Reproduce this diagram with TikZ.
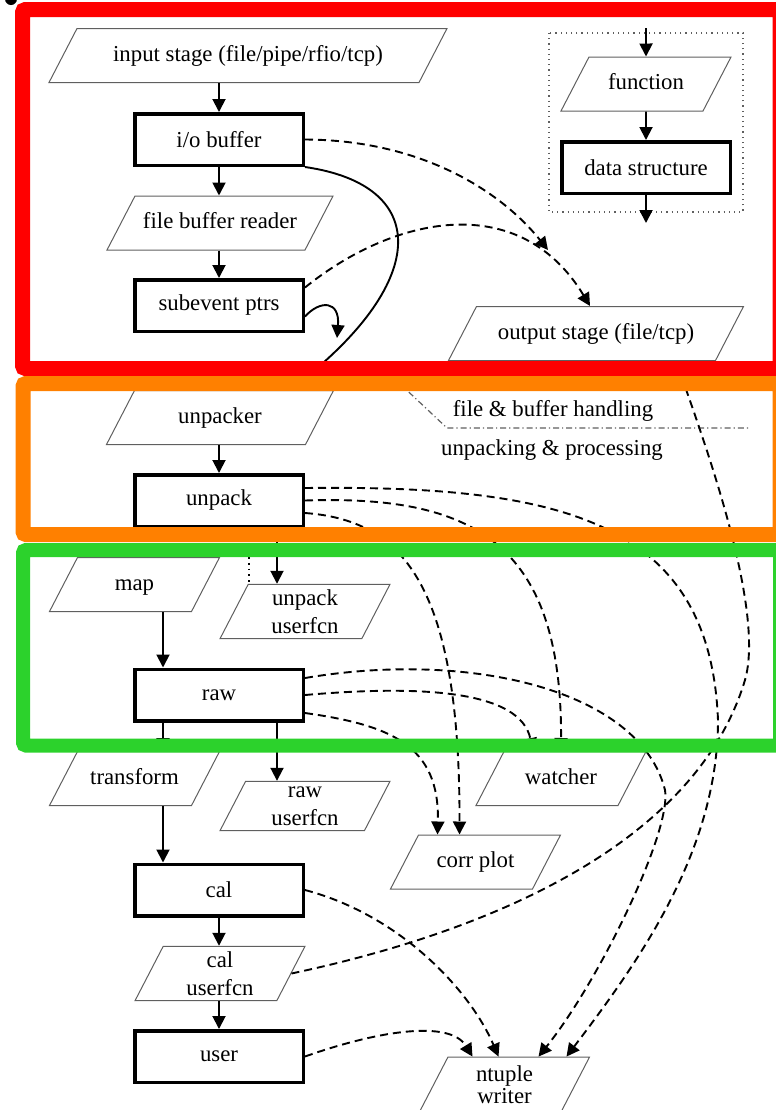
\documentclass[tikz,border=0pt]{standalone}
\usepackage{fontspec}
\setmainfont{Liberation Serif}
\usetikzlibrary{arrows.meta,calc,shapes.geometric}
\definecolor{framered}{RGB}{255,0,0}
\definecolor{frameorange}{RGB}{255,128,0}
\definecolor{framegreen}{RGB}{44,210,44}
\definecolor{outline}{RGB}{95,95,95}

\tikzset{
	func/.style={trapezium, trapezium left angle=62.6, trapezium right angle=117.4,
		trapezium stretches body, draw=outline, line width=0.5pt,
		minimum width=85pt, inner xsep=1pt, inner ysep=8.25pt,
		text height=8pt, text depth=2.5pt},
	funcii/.style={func, text height=, text depth=, inner ysep=2.6pt, align=center},
	dstruct/.style={rectangle, draw, line width=1.75pt,
		minimum width=84.25pt, minimum height=25.75pt},
	arr/.style={-{Triangle[length=6.5pt,width=6.5pt]}, line width=0.95pt},
	darr/.style={arr, dash pattern=on 4pt off 2.5pt},
	frame/.style={line width=7.5pt, rounded corners=1.5pt}
}

\begin{document}
\begin{tikzpicture}[x=0.5pt,y=-0.5pt,font=\fontsize{11.4}{14}\selectfont]
	\useasboundingbox (0,0) rectangle (776,1110);
	\clip (0,0) rectangle (776,1110);
	
	% file & buffer handling
	\node[func, minimum width=199pt] (instage) at (248,55.5) {input stage (file/pipe/rfio/tcp)};
	\node[dstruct] (io) at (219,139.5) {i/o buffer};
	\node[func, minimum width=113pt] (fbr) at (220,223) {file buffer reader};
	\node[dstruct] (sub) at (219,305.5) {subevent ptrs};
	\node[func, minimum width=147.5pt] (outstage) at (596,333.5) {output stage (file/tcp)};
	
	% legend
	\draw[outline, line width=0.6pt, dash pattern=on 0.6pt off 2pt] (549,33) rectangle (743,212);
	\coordinate (legin) at (646,28);
	\coordinate (legout) at (646,223);
	\node[func] (function) at (646,84) {function};
	\node[dstruct] (ds) at (646,167.5) {data structure};
	\draw[arr] (legin) -- (function.north);
	\draw[arr] (function.south) -- (ds.north);
	\draw[arr] (ds.south) -- (legout);
	
	% unpacking & processing
	\node[func, minimum width=113.5pt] (unpacker) at (220,417.5) {unpacker};
	\node[dstruct] (unpack) at (219,500.5) {unpack};
	\node[func] (map) at (134.5,584.5) {map};
	\node[funcii] (unpuf) at (305,611.5) {unpack\\userfcn};
	\node[dstruct] (raw) at (219,695) {raw};
	\node[func] (transform) at (134.5,778.5) {transform};
	\node[funcii] (rawuf) at (305,806) {raw\\userfcn};
	\node[func] (watcher) at (561,778.5) {watcher};
	\node[func] (corr) at (475.5,862) {corr plot};
	\node[dstruct] (cal) at (219,890) {cal};
	\node[funcii] (caluf) at (220,973.5) {cal\\userfcn};
	\node[dstruct] (user) at (219,1056.5) {user};
	\node[funcii, inner ysep=4.2pt, font=\fontsize{11.4}{11}\selectfont] (ntuple) at (504.5,1084.5) {ntuple\\writer};
	
	% separator
	\draw[outline, line width=0.6pt, dash pattern=on 3pt off 1.5pt on 0.6pt off 1.5pt]
		(380,365) -- (447,428) -- (750,428);
	\node at (553,411) {file \& buffer handling};
	\node at (552,450) {unpacking \& processing};
	
	% solid flow
	\draw[arr] (io.north |- instage.south) -- (io.north);
	\draw[arr] (io.south) -- (io.south |- fbr.north);
	\draw[arr] (sub.north |- fbr.south) -- (sub.north);
	\draw[arr] (io.south east) .. controls (430,185) and (430,280) .. ($(unpacker.north)+(70,0)$);
	\coordinate (loopend) at (337,338);
	\draw[arr] ([yshift=-5.5pt]sub.east) .. controls (320,300) and (340,300) .. (loopend);
	\draw[arr] (unpack.north |- unpacker.south) -- (unpack.north);
	\draw[arr] ([xshift=29pt]unpack.south) -- ([xshift=29pt]unpack.south |- unpuf.north);
	\draw[line width=0.9pt, dotted] ([xshift=15pt]unpack.south) -- ([xshift=15pt]unpack.south |- unpuf.north);
	\draw[arr] ([xshift=-28pt]raw.north |- map.south) -- ([xshift=-28pt]raw.north);
	\draw[arr] ([xshift=-28pt]raw.south) -- ([xshift=-28pt]raw.south |- transform.north);
	\draw[arr] ([xshift=29pt]raw.south) -- ([xshift=29pt]raw.south |- rawuf.north);
	\draw[arr] ([xshift=-28pt]cal.north |- transform.south) -- ([xshift=-28pt]cal.north);
	\draw[arr] (cal.south) -- (cal.south |- caluf.north);
	\draw[arr] (user.north |- caluf.south) -- (user.north);
	
	% data flow
	\coordinate (iotip) at (548,250);
	\draw[darr] (io.east) .. controls (420,140) and (500,190) .. (iotip);
	\draw[darr] ([yshift=9pt]sub.east) .. controls (395,215) and (520,190) .. ([xshift=-3pt]outstage.north);
	\draw[darr] (caluf.east) .. controls (520,925) and (700,830) .. (745,680)
		.. controls (765,610) and (706,446) .. ($(outstage.south)+(80,0)$);
	\draw[darr] ([yshift=6.25pt]unpack.east) .. controls (560,485) and (710,520) .. (718,720)
		.. controls (718,850) and (640,960) .. ([xshift=31pt]ntuple.north);
	\draw[darr] (unpack.east) .. controls (470,495) and (562,540) .. (watcher.north);
	\draw[darr] ([yshift=-6.25pt]unpack.east) .. controls (400,520) and (460,580) .. ([xshift=-8pt]corr.north);
	\draw[darr] ([yshift=8.5pt]raw.east) .. controls (470,650) and (640,690) .. (665,790)
		.. controls (672,830) and (600,980) .. ([xshift=17pt]ntuple.north);
	\draw[darr] (raw.east) .. controls (420,685) and (520,690) .. ([xshift=-14pt]watcher.north);
	\draw[darr] ([yshift=-9pt]raw.east) .. controls (390,725) and (440,745) .. ([xshift=-19pt]corr.north);
	\draw[darr] (cal.east) .. controls (400,915) and (470,990) .. ([xshift=-3pt]ntuple.north);
	\draw[darr] (user.east) .. controls (380,1030) and (450,1020) .. ([xshift=-16pt]ntuple.north);
	
	% stage frames
	\fill (11,-1) circle[radius=3pt];
	\draw[frame, framered] (22.5,9.5) rectangle (780,368.5);
	\draw[frame, frameorange] (23,383.5) rectangle (780,534.5);
	\draw[frame, framegreen, line width=7pt] (23,550) rectangle (780,745.5);
\end{tikzpicture}
\end{document}
